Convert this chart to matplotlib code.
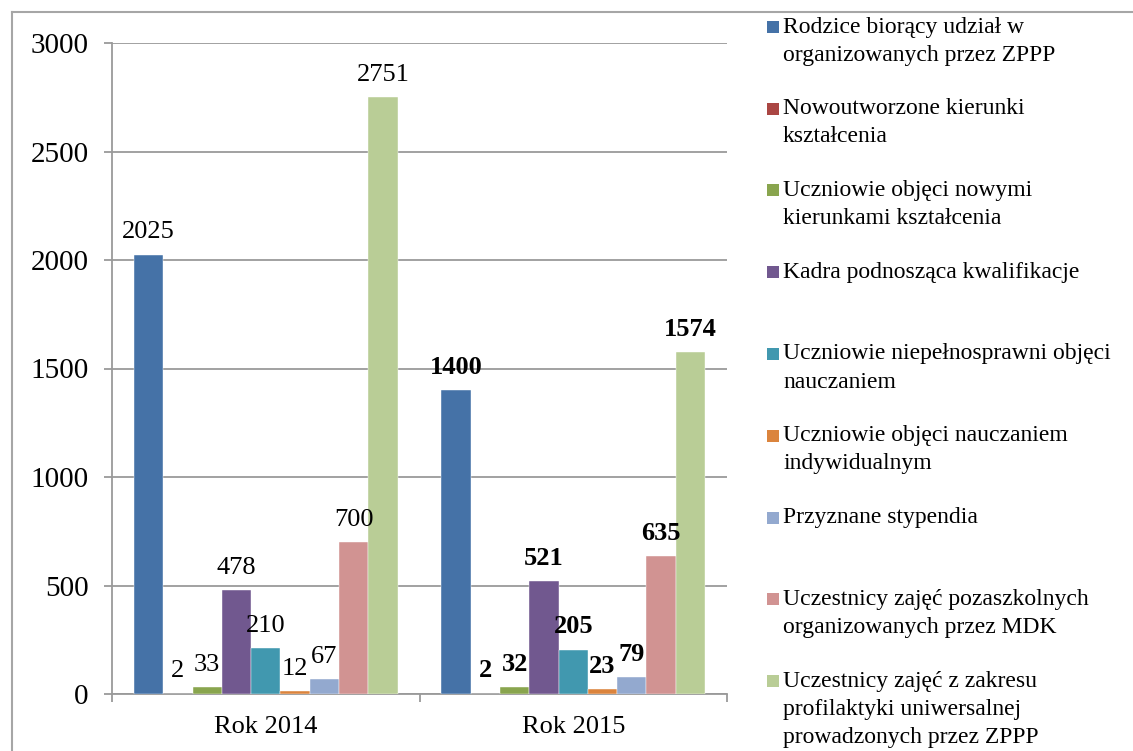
import matplotlib
matplotlib.use("Agg")
import matplotlib.pyplot as plt
from matplotlib.lines import Line2D
from matplotlib.patches import Rectangle
import numpy as np

plt.rcParams['font.family'] = ['Liberation Serif', 'DejaVu Serif']

categories = ["Rok 2014", "Rok 2015"]
series_names = [
    "Rodzice biorący udział w\norganizowanych przez ZPPP",
    "Nowoutworzone kierunki\nkształcenia",
    "Uczniowie objęci nowymi\nkierunkami kształcenia",
    "Kadra podnosząca kwalifikacje",
    "Uczniowie niepełnosprawni objęci\nnauczaniem",
    "Uczniowie objęci nauczaniem\nindywidualnym",
    "Przyznane stypendia",
    "Uczestnicy zajęć pozaszkolnych\norganizowanych przez MDK",
    "Uczestnicy zajęć z zakresu\nprofilaktyki uniwersalnej\nprowadzonych przez ZPPP",
]
values_2014 = [2025, 2, 33, 478, 210, 12, 67, 700, 2751]
values_2015 = [1400, 2, 32, 521, 205, 23, 79, 635, 1574]
colors = ["#4572A7", "#AA4643", "#89A54E", "#71588F", "#4198AF",
          "#DB843D", "#93A9CF", "#D19392", "#B9CD96"]
y_ticks = [0, 500, 1000, 1500, 2000, 2500, 3000]

W, H = 1133, 751
fig = plt.figure(figsize=(W / 100, H / 100), dpi=100)
ax = fig.add_axes([112 / W, 1 - 694 / H, (727 - 112) / W, (694 - 43) / H])

grid_c = "#9A9A9A"
n = len(series_names)
bw = 1.0 / (n + 1.5)
x = np.arange(len(categories))
for i in range(n):
    vals = [values_2014[i], values_2015[i]]
    xs = x + (i - (n - 1) / 2) * bw
    ax.bar(xs, vals, width=bw, color=colors[i], edgecolor='white', linewidth=0.3, zorder=3)
    for j, (xx, v) in enumerate(zip(xs, vals)):
        ax.annotate(str(v), xy=(xx, v), xytext=(0, 8), textcoords='offset points',
                    ha='center', va='bottom', fontsize=19,
                    fontweight='bold' if j == 1 else 'normal', zorder=5)

ax.set_xlim(-0.5, len(categories) - 0.5)
ax.set_ylim(0, 3000)
ax.set_yticks(y_ticks)
ax.set_yticklabels([str(t) for t in y_ticks], fontsize=21)
ax.set_xticks(x)
ax.set_xticklabels(categories, fontsize=19)
ax.set_xticks(np.arange(len(categories) + 1) - 0.5, minor=True)
ax.tick_params(axis='x', which='major', length=0, pad=16)
ax.tick_params(axis='x', which='minor', length=6, width=1.3, color=grid_c, direction='out')
ax.tick_params(axis='y', length=6, width=1.3, color=grid_c, direction='out', pad=11)
ax.yaxis.grid(True, color=grid_c, linewidth=1.3, zorder=0)
ax.set_axisbelow(True)
for s in ['top', 'right']:
    ax.spines[s].set_visible(False)
for s in ['left', 'bottom']:
    ax.spines[s].set_color(grid_c)
    ax.spines[s].set_linewidth(1.3)

# legend (manual, markers aligned with first text line)
step = 81.75
for i, name in enumerate(series_names):
    yc = 27 + i * step
    fig.add_artist(Rectangle((767 / W, 1 - (yc + 6) / H), 12 / W, 12 / H,
                             transform=fig.transFigure, facecolor=colors[i],
                             edgecolor='none'))
    for k, line in enumerate(name.split("\n")):
        fig.text(783 / W, 1 - (yc + 28 * k) / H, line, ha='left', va='center',
                 fontsize=17)

# outer frame
frame_c = "#A6A6A6"
fig.add_artist(Line2D([12 / W, 12 / W], [0, 1 - 12 / H], transform=fig.transFigure,
                      color=frame_c, linewidth=1.5))
fig.add_artist(Line2D([12 / W, 1], [1 - 12 / H, 1 - 12 / H], transform=fig.transFigure,
                      color=frame_c, linewidth=1.5))

fig.savefig("out.png", dpi=100)
